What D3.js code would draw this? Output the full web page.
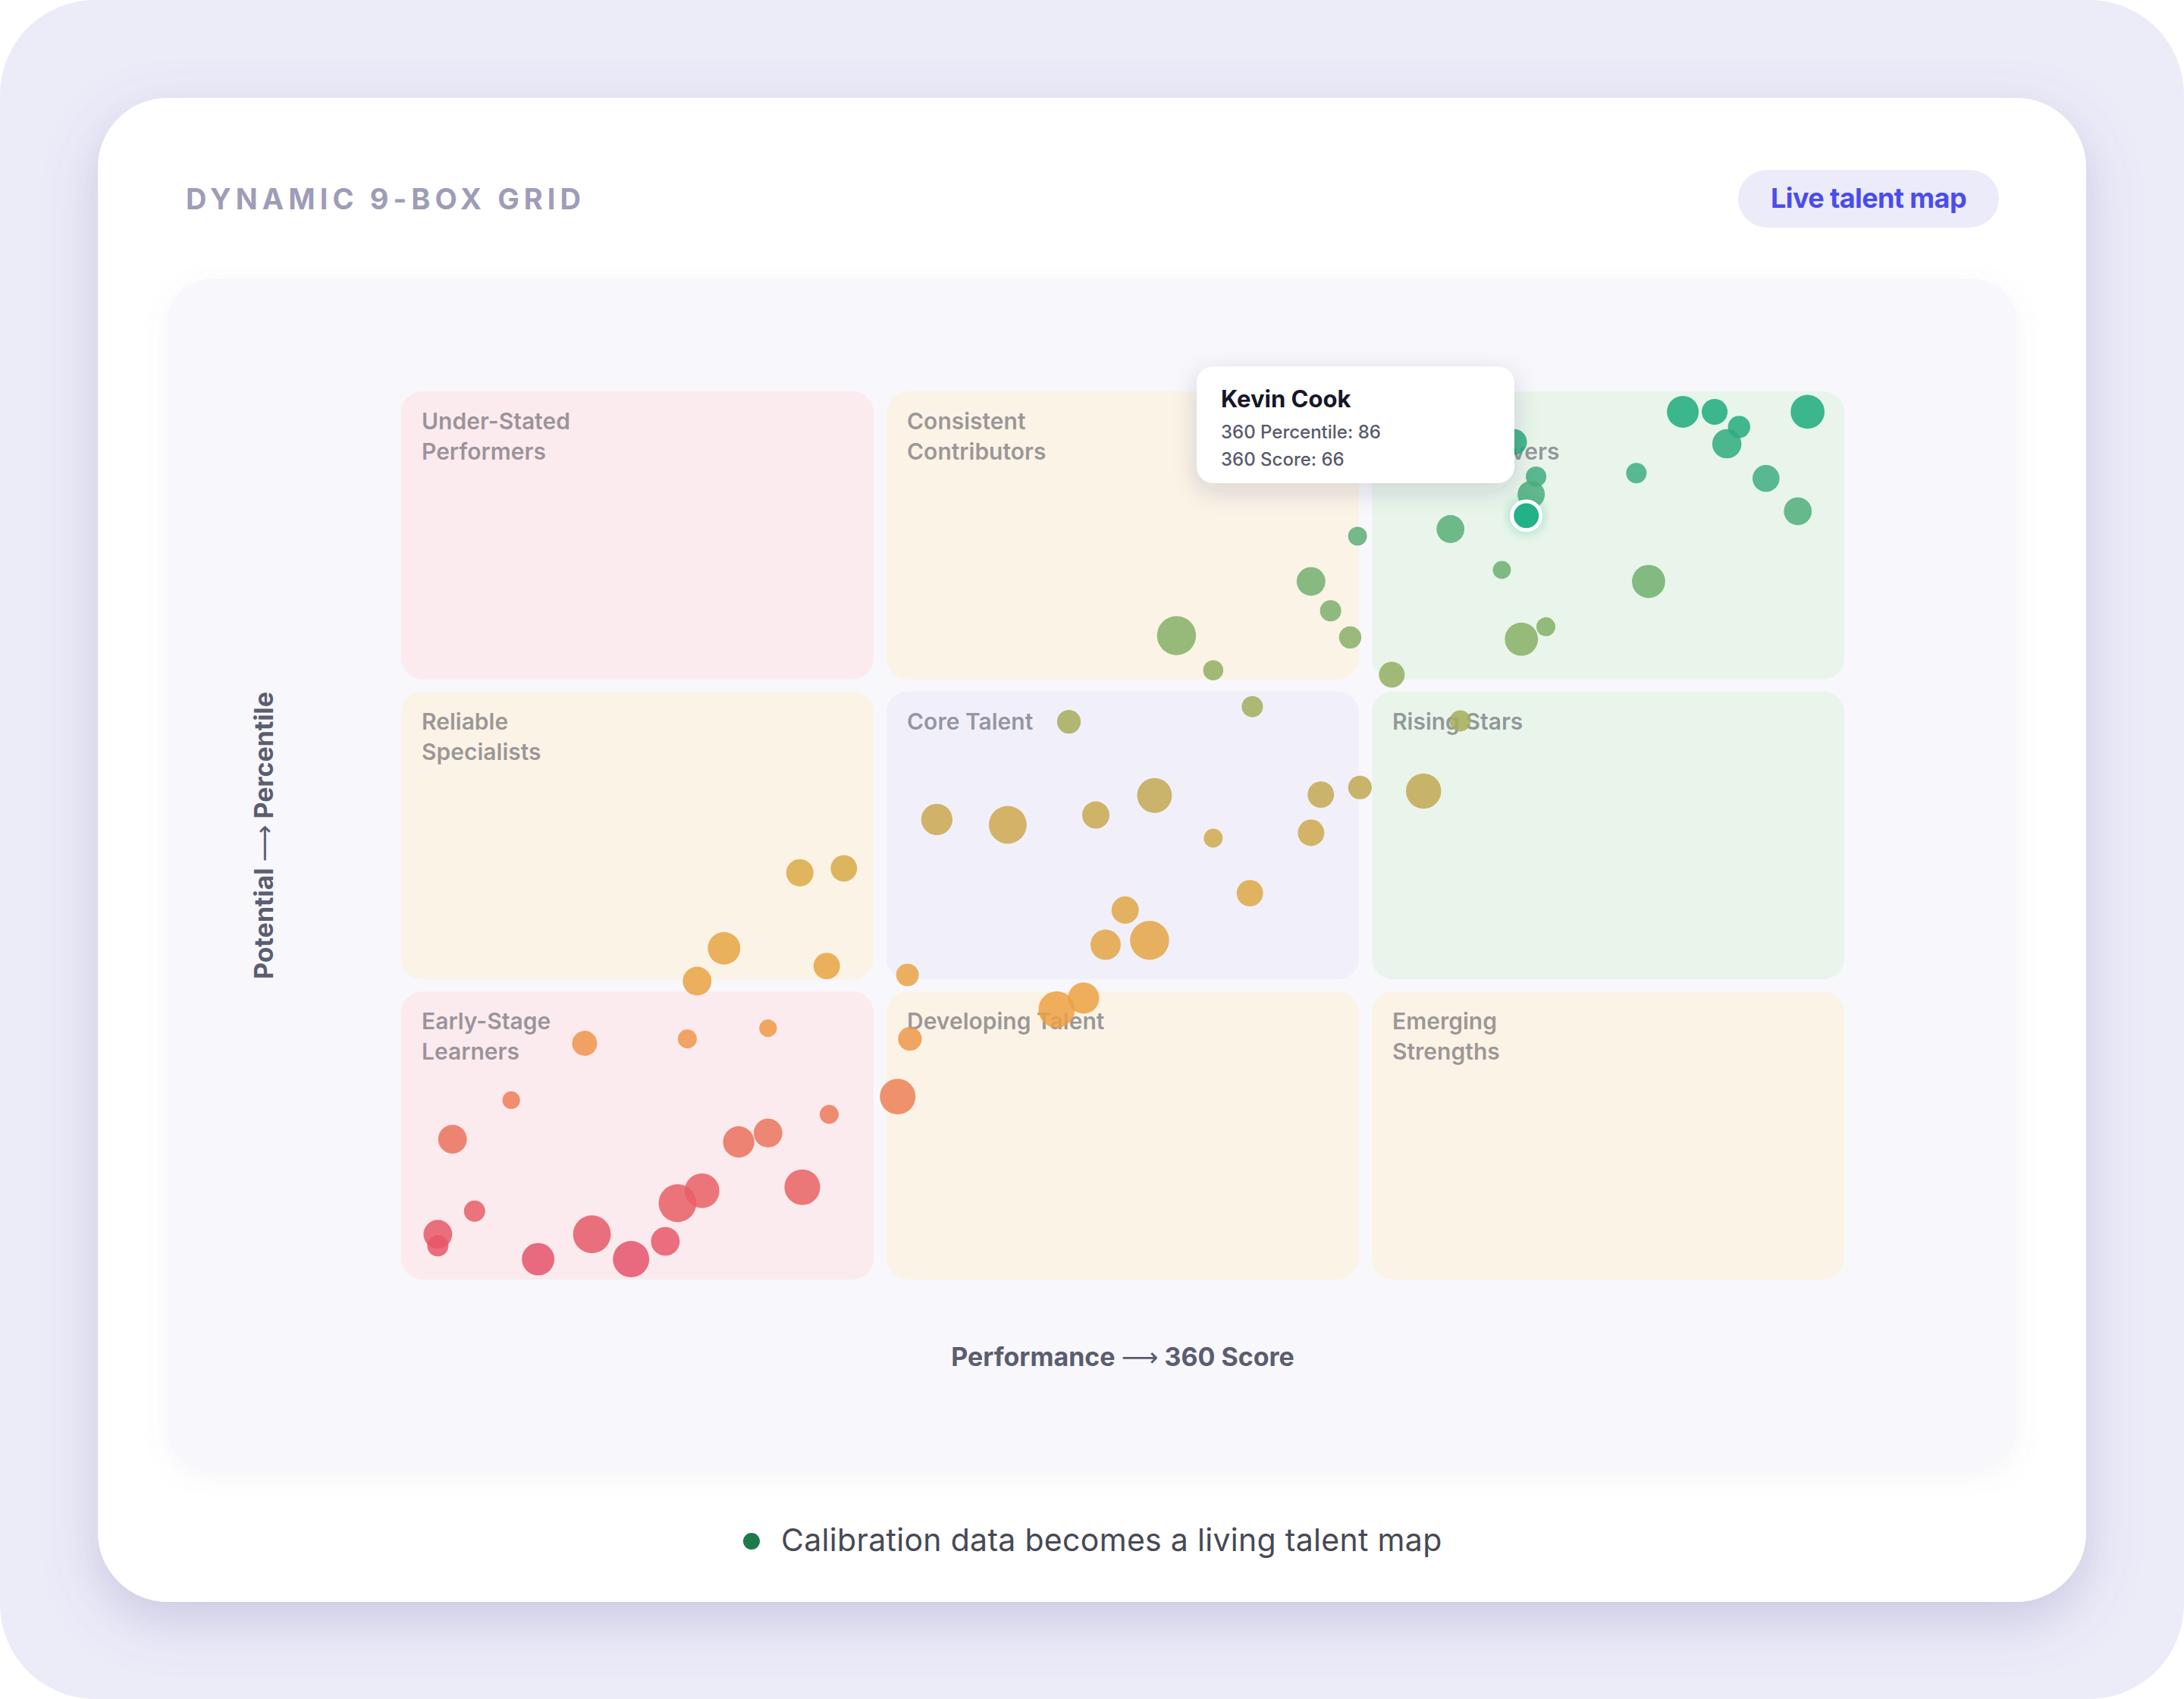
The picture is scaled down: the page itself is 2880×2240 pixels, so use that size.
<!DOCTYPE html>
<html><head><meta charset="utf-8">
<script src="https://cdn.jsdelivr.net/npm/d3@7"></script>
<style>
html,body{margin:0;padding:0;background:#ffffff;}
svg{display:block;}
text{font-family:Inter,"Noto Sans",sans-serif;}
</style></head><body>
<svg id="chart" width="2880" height="2240"></svg>
<script>
// ---------- DATA ----------
const title = "DYNAMIC 9-BOX GRID";
const badgeText = "Live talent map";
const xAxisTitle = ["Performance", "\u27F6", "360 Score"];
const yAxisTitle = ["Potential", "\u27F6", "Percentile"];
const footerText = "Calibration data becomes a living talent map";

// 9-box cells, row by row from the top (high potential) to the bottom
const cellLabels = [
  ["Under-Stated", "Performers"], ["Consistent", "Contributors"], ["Innovative", "High Achievers"],
  ["Reliable", "Specialists"], ["Core Talent"], ["Rising Stars"],
  ["Early-Stage", "Learners"], ["Developing Talent"], ["Emerging", "Strengths"]
];
const cellTones = ["pink", "cream", "green", "cream", "lavender", "green", "pink", "cream", "cream"];

// employees: 360 score (x), 360 percentile (y), bubble weight (size)
const scores = [72.4,73.7,74.7,74.2,77.5,70.5,75.8,77.1,66.4,66.2,62.9,65.0,71.0,65.8,66.8,60.5,65.5,
  59.1,57.2,58.0,58.8,51.7,53.2,54.8,63.3,47.3,
  41.9,44.8,48.4,50.8,53.2,57.6,59.2,57.2,61.8,54.7,49.6,48.8,50.6,47.9,46.8,40.7,40.8,
  36.3,38.1,33.2,37.4,32.1,
  27.5,31.7,35.0,24.5,22.1,37.5,35.0,33.8,40.3,32.3,31.3,36.4,23.0,21.5,21.5,27.8,30.8,25.6,29.4];
const percentiles = [97.7,97.7,96.0,94.1,97.7,90.8,90.2,86.5,90.4,88.4,84.5,79.9,78.6,72.1,73.5,68.1,94.3,
  83.7,78.6,75.3,72.3,72.5,68.6,64.5,62.9,62.8,
  51.8,51.2,52.3,54.5,49.7,54.6,55.4,50.3,55.0,43.5,41.6,37.7,38.2,31.7,30.4,34.3,27.1,
  45.8,46.3,37.3,35.3,33.6,
  26.6,27.1,28.3,20.2,15.8,18.6,16.5,15.5,20.6,10.0,8.6,10.4,7.7,5.1,3.8,5.1,4.3,2.3,2.3];
const weights = [65,43,32,55,74,27,47,50,27,48,50,21,71,71,23,43,43,
  23,53,29,32,98,26,29,29,36,
  63,92,48,78,23,45,36,45,80,45,48,59,98,63,85,33,36,
  48,45,68,45,53,
  40,23,20,20,53,23,53,63,82,78,92,82,29,53,29,92,53,68,85];

// highlighted employee shown in the tooltip
const highlightName = "Kevin Cook";
const highlightPercentile = 86;
const highlightScore = 66;
const highlightWeight = 53;

// ---------- DRAW ----------
const W = 2880, H = 2240;
const svg = d3.select("#chart");
const defs = svg.append("defs");

function shadow(id, dy, sd, color, op) {
  const f = defs.append("filter").attr("id", id)
    .attr("x", "-30%").attr("y", "-30%").attr("width", "160%").attr("height", "170%");
  f.append("feDropShadow").attr("dx", 0).attr("dy", dy).attr("stdDeviation", sd)
    .attr("flood-color", color).attr("flood-opacity", op);
}
shadow("cardShadow", 24, 34, "#6f6fa8", 0.28);
shadow("panelShadow", 8, 16, "#8080b0", 0.08);
shadow("tipShadow", 10, 16, "#30304a", 0.16);
shadow("hiShadow", 0, 8, "#22b08a", 0.45);

// page background
svg.append("rect").attr("x", 0).attr("y", 0).attr("width", W).attr("height", H)
  .attr("rx", 125).attr("fill", "#ecebf8");

// card
svg.append("rect").attr("x", 129).attr("y", 129).attr("width", 2622).attr("height", 1983)
  .attr("rx", 92).attr("fill", "#ffffff").attr("filter", "url(#cardShadow)");

// title with tracking fitted to the reference width
const titleText = svg.append("text").attr("x", 245).attr("y", 276)
  .attr("font-size", 38).attr("font-weight", 700).attr("fill", "#9e9db8").text(title);
{
  const w0 = titleText.node().getComputedTextLength();
  const ls = (521 - w0) / (title.length - 1);
  titleText.attr("letter-spacing", ls);
}

// badge
svg.append("rect").attr("x", 2292).attr("y", 224).attr("width", 344).attr("height", 76)
  .attr("rx", 38).attr("fill", "#ecebf9");
svg.append("text").attr("x", 2464).attr("y", 274).attr("text-anchor", "middle")
  .attr("font-size", 36).attr("font-weight", 700).attr("fill", "#4a4cec")
  .attr("letter-spacing", -0.6).text(badgeText);

// chart panel
svg.append("rect").attr("x", 221).attr("y", 368).attr("width", 2438).attr("height", 1570)
  .attr("rx", 56).attr("fill", "#f7f7fc").attr("filter", "url(#panelShadow)");

// scales
const x = d3.scaleLinear().domain([20, 79]).range([529, 2432]);
const y = d3.scaleLinear().domain([0, 100]).range([1687, 516]);
const r = d3.scaleSqrt().domain([0, 100]).range([0, 26]);
const colScale = d3.scaleBand().domain([0, 1, 2]).range([529, 2432]).paddingInner(0.0266);
const rowScale = d3.scaleBand().domain([0, 1, 2]).range([516, 1687]).paddingInner(0.0404);
const toneFill = {pink: "#fbebee", cream: "#fbf3e6", green: "#e9f5eb", lavender: "#f1f0fa"};
const color = d3.scaleLinear()
  .domain([0, 10, 20, 30, 45, 55, 65, 78, 90, 100])
  .range(["#e5506c", "#e76264", "#ec7e57", "#eea043", "#dba944", "#c2a852", "#9eae5d", "#73af6d", "#42ad80", "#11a97b"])
  .interpolate(d3.interpolateRgb);

// cells
const cells = cellLabels.map((lab, i) => ({lab, tone: cellTones[i], row: Math.floor(i / 3), col: i % 3}));
const cellG = svg.append("g").selectAll("g").data(cells).join("g")
  .attr("transform", d => `translate(${colScale(d.col)},${rowScale(d.row)})`);
cellG.append("rect").attr("width", colScale.bandwidth()).attr("height", rowScale.bandwidth())
  .attr("rx", 28).attr("fill", d => toneFill[d.tone]);
cellG.append("text").attr("x", 27).attr("y", 50)
  .attr("font-size", 30).attr("font-weight", 600).attr("fill", "#3b3b48").attr("fill-opacity", 0.5)
  .selectAll("tspan").data(d => d.lab).join("tspan")
  .attr("x", 27).attr("dy", (d, i) => i === 0 ? 0 : 40).text(d => d);

// axis titles (word, long arrow, word)
function axisTitle(g, parts) {
  const t = g.append("text").attr("text-anchor", "middle")
    .attr("font-size", 34).attr("font-weight", 700).attr("fill", "#5b5d70");
  t.append("tspan").text(parts[0] + " ");
  t.append("tspan").attr("font-weight", 400).attr("font-family", "DejaVu Sans").text(parts[1]);
  t.append("tspan").text(" " + parts[2]);
}
axisTitle(svg.append("g").attr("transform", `translate(${x(49.5)},1801)`), xAxisTitle);
axisTitle(svg.append("g").attr("transform", `translate(360,${y(50)}) rotate(-90)`), yAxisTitle);

// bubbles
const people = scores.map((s, i) => ({s, p: percentiles[i], w: weights[i]}));
svg.append("g").selectAll("circle").data(people).join("circle")
  .attr("cx", d => x(d.s)).attr("cy", d => y(d.p)).attr("r", d => r(d.w))
  .attr("fill", d => color(d.p)).attr("fill-opacity", 0.85);

// highlighted employee
svg.append("circle").attr("cx", x(highlightScore)).attr("cy", y(highlightPercentile))
  .attr("r", r(highlightWeight)).attr("fill", "#20b189")
  .attr("stroke", "#ffffff").attr("stroke-width", 5).attr("filter", "url(#hiShadow)");

// tooltip
const tip = svg.append("g").attr("transform", "translate(1578,483)");
tip.append("rect").attr("width", 419).attr("height", 154).attr("rx", 22)
  .attr("fill", "#ffffff").attr("filter", "url(#tipShadow)");
tip.append("text").attr("x", 32).attr("y", 54).attr("font-size", 31).attr("font-weight", 700)
  .attr("fill", "#17172a").text(highlightName);
tip.append("text").attr("x", 32).attr("y", 95).attr("font-size", 24).attr("font-weight", 500)
  .attr("fill", "#575a6e").text(`360 Percentile: ${highlightPercentile}`);
tip.append("text").attr("x", 32).attr("y", 131).attr("font-size", 24).attr("font-weight", 500)
  .attr("fill", "#575a6e").text(`360 Score: ${highlightScore}`);

// footer caption
svg.append("circle").attr("cx", 991).attr("cy", 2032).attr("r", 11).attr("fill", "#1e7a4a");
svg.append("text").attr("x", 1030).attr("y", 2045).attr("font-size", 41).attr("font-weight", 400)
  .attr("fill", "#474955").attr("letter-spacing", 0.3).text(footerText);
</script>
</body></html>
